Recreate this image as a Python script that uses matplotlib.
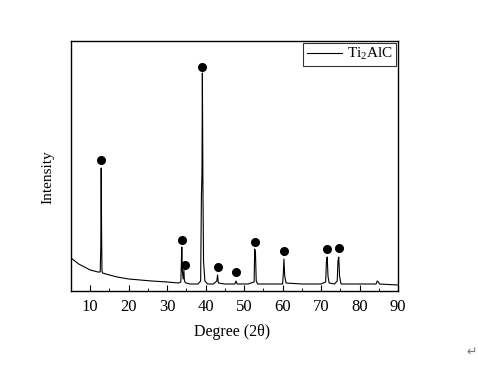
import matplotlib
matplotlib.use("Agg")
import matplotlib.pyplot as plt
from matplotlib.ticker import MultipleLocator

# Diffraction pattern (2theta, intensity in arbitrary units)
two_theta = [5, 6, 7, 8, 9, 10, 11, 12, 12.6, 12.75, 12.85, 12.95, 13.05, 13.2,
             15, 17, 20, 23, 26, 30, 33, 33.55, 33.7, 33.8, 33.95, 34.15, 34.35,
             34.45, 34.6, 34.9, 36, 38, 38.7, 38.9, 39.05, 39.15, 39.3, 39.45,
             39.8, 40.5, 42, 42.9, 43.1, 43.3, 45, 47.6, 47.9, 48.2, 51, 52.6,
             52.75, 52.95, 53.15, 53.5, 57, 60.0, 60.2, 60.35, 60.55, 60.9, 65,
             70, 71.2, 71.4, 71.6, 71.8, 72.1, 73.5, 74.2, 74.4, 74.6, 74.8, 75.2,
             80, 84.3, 84.6, 84.9, 85.2, 90]
intensity = [33, 30, 27, 25, 23, 21, 20, 19, 19, 45, 123, 60, 20, 18,
             16, 14, 12, 11, 10, 9, 8, 9, 30, 44, 20, 12, 21,
             12, 9, 8, 7, 7, 10, 95, 120, 218, 100, 30,
             10, 7, 7, 10, 16, 8, 7, 7, 10, 7, 7, 9,
             42, 38, 10, 7, 7, 7, 18, 32, 15, 8, 7,
             7, 9, 30, 34, 15, 8, 7, 10, 30, 34, 15, 7,
             7, 7, 10, 9, 7, 6]

# Peak markers (position, marker height)
peak_pos = [12.9, 33.8, 34.6, 39.1, 43.1, 47.9, 52.9, 60.3, 71.6, 74.6]
peak_mark = [131, 51, 26, 224, 24, 19, 49, 40, 42, 43]

series_label = "Ti$_2$AlC"

plt.rcParams['font.family'] = ['Liberation Serif', 'DejaVu Serif']
plt.rcParams['mathtext.fontset'] = 'custom'
plt.rcParams['mathtext.rm'] = 'Liberation Serif'
plt.rcParams['mathtext.it'] = 'Liberation Serif:italic'
plt.rcParams['mathtext.default'] = 'rm'

fig = plt.figure(figsize=(4.78, 3.65), dpi=100)
ax = fig.add_axes([71/478, 1-291/365, (398-71)/478, (291-41)/365])

ax.plot(two_theta, intensity, color='black', lw=0.8, label=series_label)
ax.plot(peak_pos, peak_mark, 'o', color='black', ms=5.5, label='_nolegend_')

ax.set_xlim(5, 90)
ax.set_ylim(0, 250)
ax.xaxis.set_major_locator(MultipleLocator(10))
ax.xaxis.set_minor_locator(MultipleLocator(5))
ax.tick_params(axis='x', which='both', direction='in', labelsize=12, pad=6)
ax.tick_params(axis='x', which='major', length=4)
ax.tick_params(axis='x', which='minor', length=2)
ax.set_yticks([])
for s in ax.spines.values():
    s.set_linewidth(1.0)

leg = ax.legend(loc='upper right', fontsize=11, frameon=True, fancybox=False,
                handlelength=2.3, borderpad=0.25, borderaxespad=0.1,
                handletextpad=0.3)
leg.get_frame().set_edgecolor('black')
leg.get_frame().set_linewidth(0.8)

fig.text(48/478, 1-177/365, "Intensity", rotation=90, ha='center', va='center', fontsize=11)
fig.text(232/478, 1-332/365, "Degree (2θ)", ha='center', va='center', fontsize=11.5)
fig.text(472/478, 1-352/365, "↵", ha='center', va='center', fontsize=9, color='#777777',
         family=['DejaVu Sans'])

fig.savefig("out.png", dpi=100)
